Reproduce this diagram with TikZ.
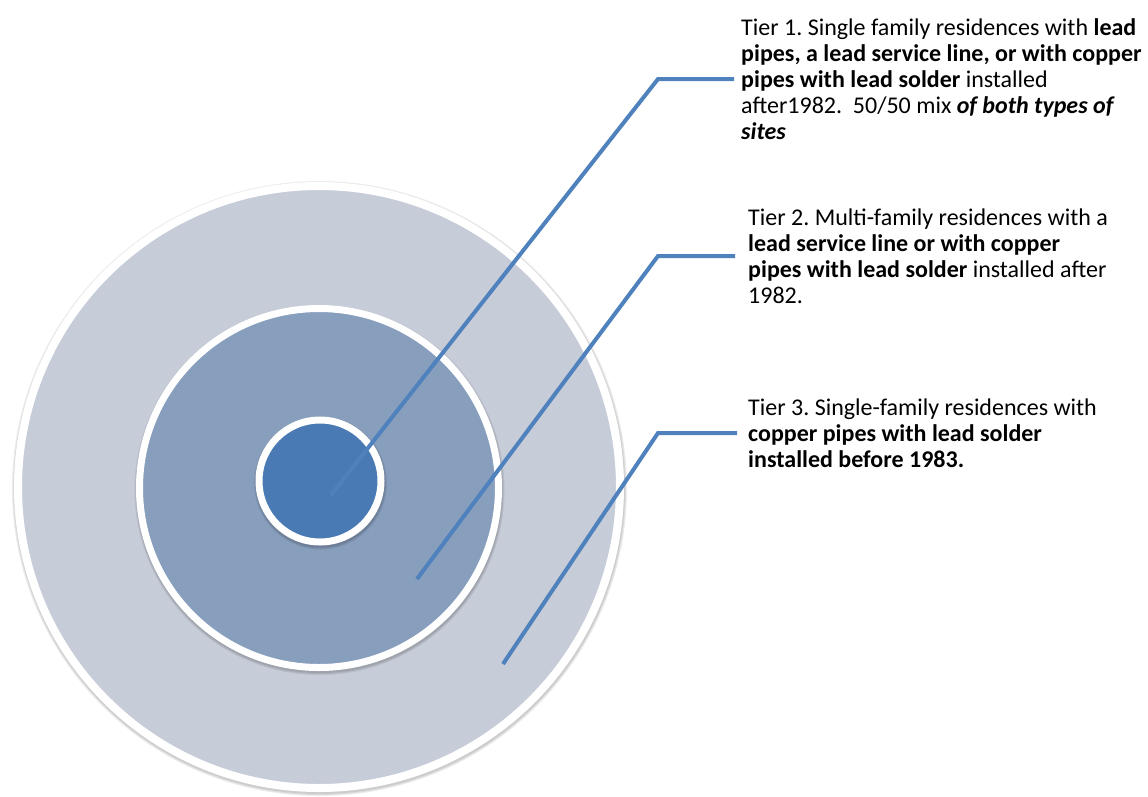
\documentclass[tikz,border=0pt]{standalone}
\usepackage{fontspec}
\setmainfont{Carlito}
\frenchspacing
\definecolor{ringout}{HTML}{C6CCD8}
\definecolor{ringmid}{HTML}{889EBD}
\definecolor{ringin}{HTML}{4A7AB4}
\definecolor{leader}{HTML}{4F81BD}
\tikzset{
  ring/.style={circle, inner sep=0pt, outer sep=0pt, draw=white},
  ringshadow/.style={fill=black, opacity=0.07},
  leaderline/.style={draw=leader, line width=4pt, line join=miter},
  tiertext/.style={anchor=base west, inner sep=0pt, font=\fontsize{24}{26}\selectfont}
}
\begin{document}
\begin{tikzpicture}[x=1pt,y=-1pt]
\useasboundingbox (0,0) rectangle (1148,796);
% soft shadows
\foreach \d in {0.5,1.5,2.5} {
  \fill[ringshadow] (319.5,488.5) circle (305+\d);
}
\node[ring, fill=ringout, line width=8pt, minimum size=602pt] (outer) at (319,487) {};
\foreach \d in {0.5,1.5,2.5} {
  \fill[ringshadow] (319.5,490) circle (182.5+\d);
}
\node[ring, fill=ringmid, line width=7pt, minimum size=359pt] (middle) at (319,488) {};
\foreach \d in {0.5,1.5,2.5} {
  \fill[ringshadow] (320.5,483) circle (64+\d);
}
\node[ring, fill=ringin, line width=7pt, minimum size=122pt] (inner) at (320,481) {};
% texts
\node[tiertext] (t1) at (741,35) {\begin{tabular}[t]{@{}l@{}}
Tier 1. Single family residences with \textbf{lead}\\
\textbf{pipes, a lead service line, or with copper}\\
\textbf{pipes with lead solder} installed\\
after1982.\ \ 50/50 mix \textbf{\textit{of both types of}}\\
\textbf{\textit{sites}}
\end{tabular}};
\node[tiertext] (t2) at (748,225) {\begin{tabular}[t]{@{}l@{}}
Tier 2. Multi-family residences with a\\
\textbf{lead service line or with copper}\\
\textbf{pipes with lead solder} installed after\\
1982.
\end{tabular}};
\node[tiertext] (t3) at (748,415) {\begin{tabular}[t]{@{}l@{}}
Tier 3. Single-family residences with\\
\textbf{copper pipes with lead solder}\\
\textbf{installed before 1983.}
\end{tabular}};
% leader lines
\coordinate (s1) at (331,495);
\coordinate (k1) at (658,79);
\coordinate (s2) at (417,579);
\coordinate (k2) at (658,256);
\coordinate (s3) at (503,664);
\coordinate (k3) at (658,433);
\draw[leaderline] (s1) -- (k1) -- ([xshift=-7pt]k1 -| t1.west);
\draw[leaderline] (s2) -- (k2) -- ([xshift=-13pt]k2 -| t2.west);
\draw[leaderline] (s3) -- (k3) -- ([xshift=-11pt]k3 -| t3.west);
\end{tikzpicture}
\end{document}
